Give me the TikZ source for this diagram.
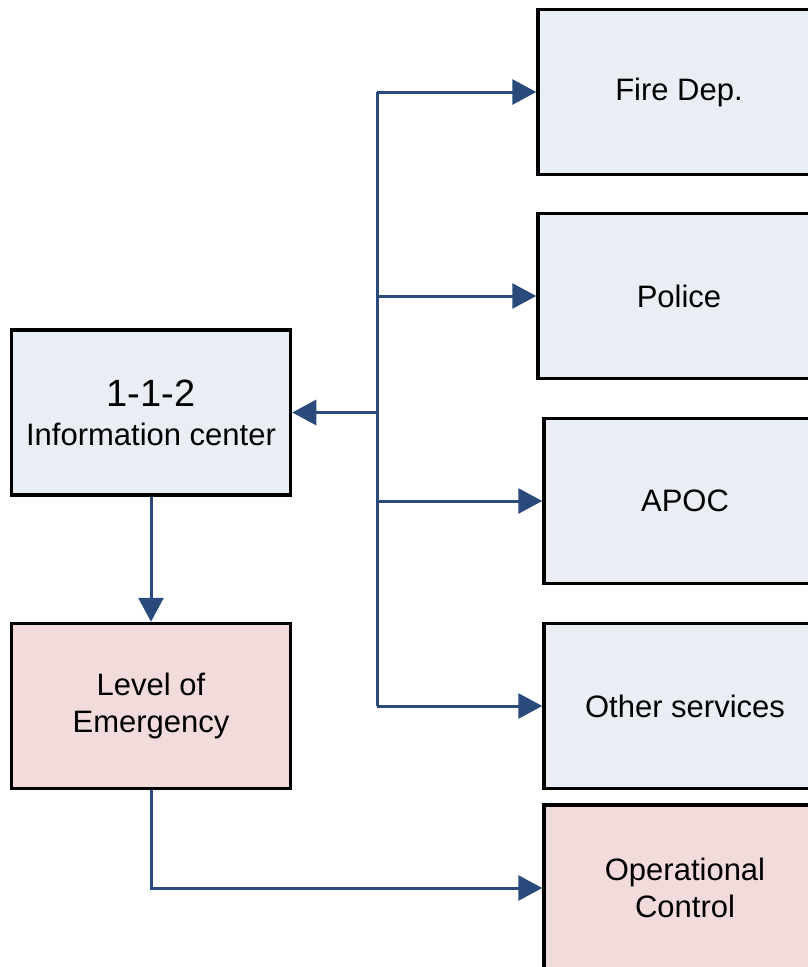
\documentclass[tikz,border=0pt]{standalone}
\usepackage{fontspec}
\setmainfont{Liberation Sans}
\usetikzlibrary{arrows.meta}
\definecolor{boxblue}{HTML}{E9EDF4}
\definecolor{boxpink}{HTML}{F2DCDB}
\definecolor{linkblue}{HTML}{2A4A7C}
\begin{document}
\begin{tikzpicture}[x=1pt,y=-1pt,
  basebox/.style={draw=black,line width=3.5pt,rectangle,minimum width=279pt,minimum height=165pt,inner sep=0pt,align=center,font=\fontsize{31}{37}\selectfont},
  bluebox/.style={basebox,fill=boxblue},
  pinkbox/.style={basebox,fill=boxpink},
  link/.style={draw=linkblue,line width=3pt},
  arr/.style={link,-{Triangle[length=24pt,width=25pt]}}]
\useasboundingbox (0,0) rectangle (808,967);
\begin{scope}
\clip (0,0) rectangle (808,967);
\node[bluebox] (info) at (151,412.5) {{\fontsize{38}{43}\selectfont 1-1-2}\\[2pt]Information center};
\node[pinkbox] (level) at (151,706) {Level of\\Emergency};
\node[bluebox,minimum width=282pt] (fire) at (679,92) {Fire Dep.};
\node[bluebox,minimum width=282pt] (police) at (679,296) {Police};
\node[bluebox,minimum width=282pt] (apoc) at (685,501) {APOC};
\node[bluebox,minimum width=282pt] (other) at (685,706) {Other services};
\node[pinkbox,minimum width=282pt,minimum height=166pt] (op) at (685,888) {Operational\\Control};
\end{scope}
\coordinate (t1) at (377,92);
\coordinate (t2) at (377,296);
\coordinate (t3) at (377,412.5);
\coordinate (t4) at (377,501);
\coordinate (t5) at (377,706);
\coordinate (c1) at (151,888);
\draw[link,line cap=butt] (t1) -- (t5);
\draw[arr] (t1) -- (fire.west);
\draw[arr] (t2) -- (police.west);
\draw[arr] (t3) -- (info.east);
\draw[arr] (t4) -- (apoc.west);
\draw[arr] (t5) -- (other.west);
\draw[arr] (info.south) -- (level.north);
\draw[arr] (level.south) -- (c1) -- (op.west);
\end{tikzpicture}
\end{document}
